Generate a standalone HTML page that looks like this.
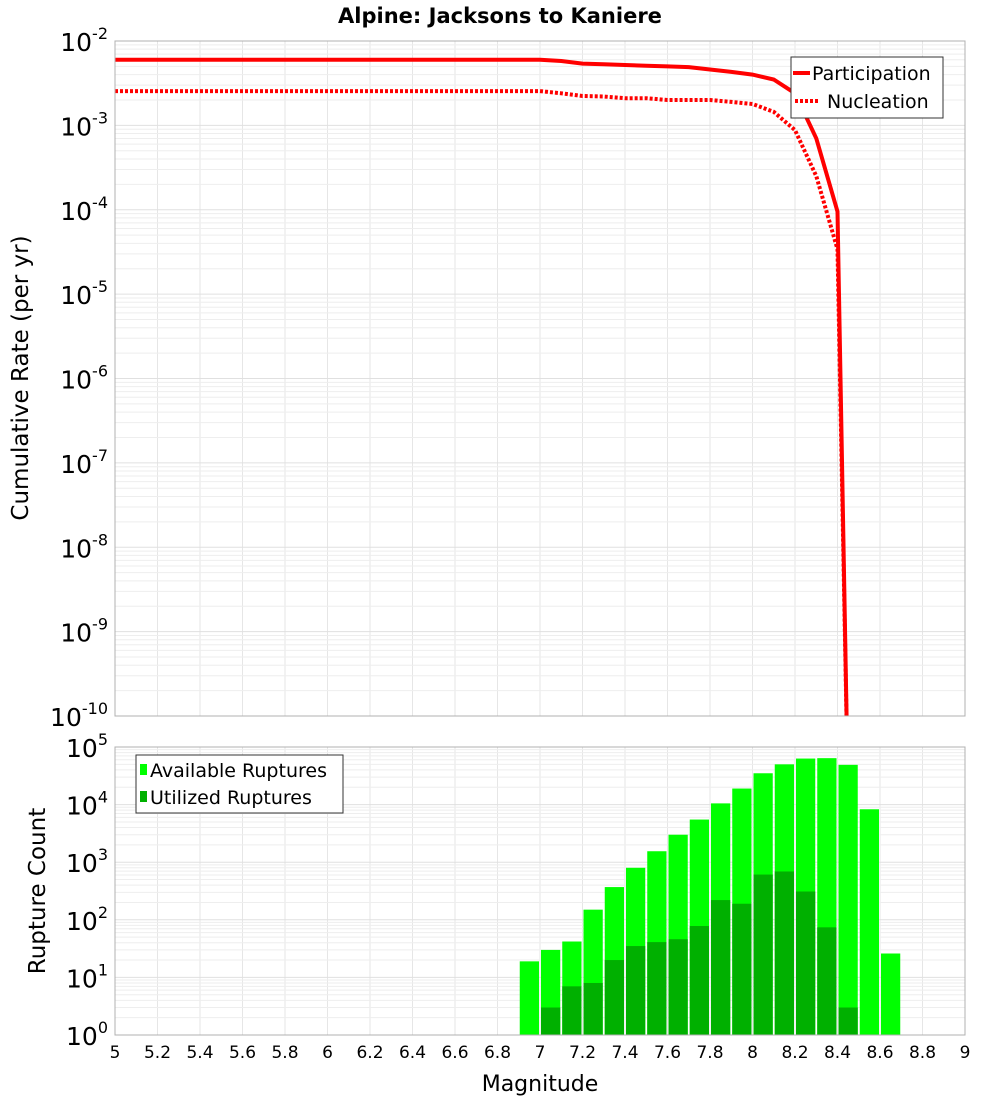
<!DOCTYPE html>
<html><head><meta charset="utf-8"><style>
body{margin:0;background:#fff;}
svg{display:block;font-family:"DejaVu Sans","Liberation Sans",sans-serif;}
</style></head><body>
<svg id="chart" width="1000" height="1100" viewBox="0 0 1000 1100">
<text x="500" y="23" text-anchor="middle" font-size="21" font-weight="bold">Alpine: Jacksons to Kaniere</text>
<g id="top-grid"></g><g id="bot-grid"></g>
<g id="bars"></g><g id="lines"></g>
<rect x="115" y="41" width="850" height="675" fill="none" stroke="#b0b0b0"/>
<rect x="115" y="747" width="850" height="288" fill="none" stroke="#b0b0b0"/>
<g id="ticks"></g>
<text x="28" y="378" transform="rotate(-90 28 378)" text-anchor="middle" font-size="23">Cumulative Rate (per yr)</text>
<text x="45" y="891" transform="rotate(-90 45 891)" text-anchor="middle" font-size="23">Rupture Count</text>
<text x="540" y="1091" text-anchor="middle" font-size="22">Magnitude</text>
<g>
<rect x="791" y="57" width="152" height="61" fill="#fff" stroke="#333"/>
<line x1="793" y1="73" x2="810" y2="73" stroke="#f00" stroke-width="4"/>
<text x="812" y="80" font-size="19">Participation</text>
<line x1="795" y1="101" x2="820" y2="101" stroke="#f00" stroke-width="4" stroke-dasharray="3,2"/>
<text x="827" y="108" font-size="19">Nucleation</text>
</g>
<g>
<rect x="136" y="755" width="207" height="58" fill="#fff" stroke="#333"/>
<rect x="140" y="764" width="7" height="11" fill="#00ff00"/>
<text x="150" y="777" font-size="19">Available Ruptures</text>
<rect x="140" y="791" width="7" height="11" fill="#00b000"/>
<text x="150" y="804" font-size="19">Utilized Ruptures</text>
</g>
</svg>
<script>
const lineMags = [5.0,5.5,6.0,6.5,7.0,7.1,7.2,7.3,7.4,7.5,7.6,7.7,7.8,7.9,8.0,8.1,8.2,8.3,8.4,8.45];
const participation = [0.0060,0.0060,0.0060,0.0060,0.0060,0.0058,0.0054,0.0053,0.0052,0.0051,0.0050,0.0049,0.0046,0.0043,0.0040,0.0035,0.0024,0.0007,0.000095,1e-11];
const nucleation = [0.00255,0.00255,0.00255,0.00255,0.00255,0.0024,0.00223,0.0022,0.0021,0.0021,0.0020,0.0020,0.0020,0.0019,0.00179,0.00145,0.00088,0.00025,0.000034,1e-11];
const binMags = [6.95,7.05,7.15,7.25,7.35,7.45,7.55,7.65,7.75,7.85,7.95,8.05,8.15,8.25,8.35,8.45,8.55,8.65];
const available = [19,30,42,150,370,800,1550,3000,5500,10500,19000,35000,50000,63000,64000,49000,8300,26];
const utilized = [0,3,7,8,20,35,41,46,78,220,190,610,690,310,74,3,0,0];
const xTicks = ["5","5.2","5.4","5.6","5.8","6","6.2","6.4","6.6","6.8","7","7.2","7.4","7.6","7.8","8","8.2","8.4","8.6","8.8","9"];
const topExps = [-2,-3,-4,-5,-6,-7,-8,-9,-10];
const botExps = [5,4,3,2,1,0];

const NS="http://www.w3.org/2000/svg";
function mk(tag,attrs,parent){const e=document.createElementNS(NS,tag);for(const k in attrs)e.setAttribute(k,attrs[k]);parent.appendChild(e);return e;}
const xS=m=>115+(m-5)*212.5;
const yTop=v=>41+(-2-Math.log10(v))*84.375;
const yBot=v=>1035-Math.log10(v)*57.6;

const tg=document.getElementById('top-grid'), bg=document.getElementById('bot-grid'), tk=document.getElementById('ticks');
// vertical grid + x ticks
xTicks.forEach(t=>{const x=xS(parseFloat(t));
 [[41,716,tg],[747,1035,bg]].forEach(([a,b,g])=>{const l=mk('line',{x1:x,x2:x,y1:a,y2:b,stroke:'#e6e6e6'},g);
 
 });
 const tx=mk('text',{x:x,y:1058,'text-anchor':'middle','font-size':'17'},tk);tx.textContent=t;
 
 
});
// log grids
for(let e=-10;e<-2;e++)for(let k=1;k<10;k++){const y=yTop(k*Math.pow(10,e));
 const l=mk('line',{x1:115,x2:965,y1:y,y2:y,stroke:k==1?'#e0e0e0':'#eeeeee'},tg);
 
 }
for(let e=0;e<5;e++)for(let k=1;k<10;k++){const y=yBot(k*Math.pow(10,e));
 const l=mk('line',{x1:115,x2:965,y1:y,y2:y,stroke:k==1?'#e0e0e0':'#eeeeee'},bg);
 
 }
topExps.forEach(e=>{const y=yTop(Math.pow(10,e));
 const t=mk('text',{x:108,y:y+10,'text-anchor':'end','font-size':'25'},tk);
 
 
 const a=mk('tspan',{},t);a.textContent='10';const b=mk('tspan',{dy:'-12','font-size':'16'},t);b.textContent=String(e);});
botExps.forEach(e=>{const y=yBot(Math.pow(10,e));
 const t=mk('text',{x:108,y:y+10,'text-anchor':'end','font-size':'25'},tk);
 
 
 const a=mk('tspan',{},t);a.textContent='10';const b=mk('tspan',{dy:'-12','font-size':'16'},t);b.textContent=String(e);});
// bars
const bars=document.getElementById('bars');
binMags.forEach((m,i)=>{const x0=xS(m-0.05)+1,w=212.5*0.1-2;
 if(available[i]>0){const y=yBot(available[i]);const r=mk('rect',{x:x0,y:y,width:w,height:1035-y,fill:'#00ff00'},bars);
 
 }
 if(utilized[i]>0){const y=yBot(utilized[i]);const r=mk('rect',{x:x0,y:y,width:w,height:1035-y,fill:'#00b000'},bars);
 
 }
});
// lines
const lg=document.getElementById('lines');
const clip=mk('clipPath',{id:'tc'},lg);mk('rect',{x:115,y:41,width:850,height:675},clip);
function path(vals){return vals.map((v,i)=>(i?'L':'M')+xS(lineMags[i]).toFixed(1)+','+yTop(v).toFixed(1)).join(' ');}
const p1=mk('path',{d:path(participation),fill:'none',stroke:'#f00','stroke-width':'4','clip-path':'url(#tc)'},lg);


const p2=mk('path',{d:path(nucleation),fill:'none',stroke:'#f00','stroke-width':'4','stroke-dasharray':'3,2','clip-path':'url(#tc)'},lg);


</script>
</body></html>
